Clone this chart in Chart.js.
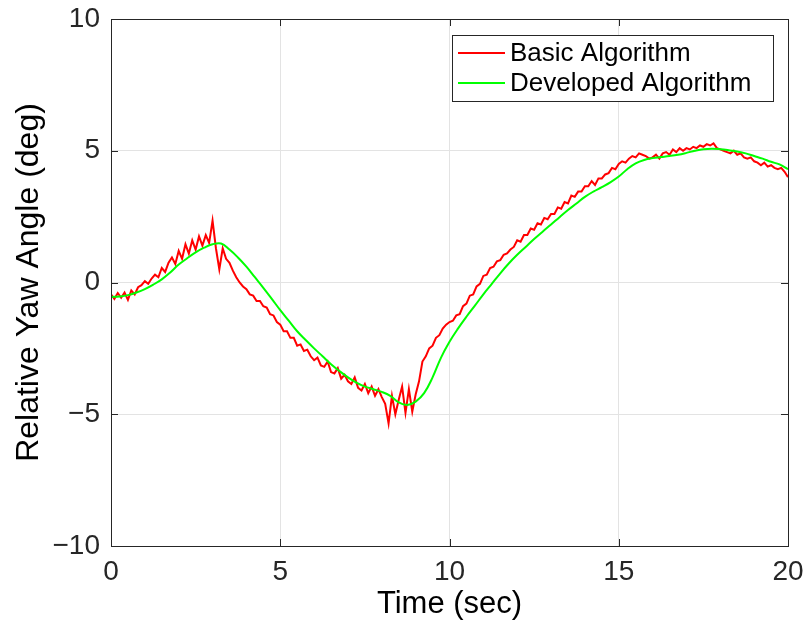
<!DOCTYPE html>
<html>
<head>
<meta charset="utf-8">
<script src="https://cdn.jsdelivr.net/npm/chart.js@4.4.0/dist/chart.umd.min.js"></script>
<style>
  html, body { margin: 0; padding: 0; background: #fff; }
  #wrap { width: 807px; height: 626px; }
</style>
</head>
<body>
<div id="wrap"><canvas id="yawChart" width="807" height="626"></canvas></div>
<script>
// time steps (sec) of the two recorded series
const basicStep = 0.1;
const developedStep = 0.25;

// Basic Algorithm, one value per 0.1 s, 0..20 s
const basicYaw = [
  -0.45,-0.62,-0.4,-0.58,-0.38,-0.66,-0.3,-0.45,-0.18,-0.1,
  0.05,-0.05,0.15,0.3,0.2,0.55,0.4,0.75,0.95,0.7,
  1.2,0.9,1.45,1.1,1.6,1.25,1.75,1.4,1.8,1.5,
  2.35,1.3,0.5,1.3,0.9,0.75,0.45,0.2,0.0,-0.15,
  -0.25,-0.45,-0.5,-0.7,-0.7,-0.9,-0.95,-1.2,-1.25,-1.5,
  -1.6,-1.85,-1.85,-2.1,-2.1,-2.4,-2.35,-2.6,-2.55,-2.8,
  -2.95,-2.85,-3.15,-3.2,-3.0,-3.4,-3.45,-3.25,-3.65,-3.5,
  -3.75,-3.85,-3.6,-4.0,-4.1,-3.85,-4.2,-3.95,-4.3,-4.05,
  -4.35,-4.6,-5.35,-4.3,-5.0,-4.45,-3.95,-4.95,-4.05,-4.9,
  -4.25,-3.75,-3.0,-2.8,-2.5,-2.4,-2.1,-2.0,-1.75,-1.6,
  -1.5,-1.45,-1.25,-1.2,-0.9,-0.8,-0.5,-0.45,-0.15,-0.05,
  0.25,0.3,0.55,0.6,0.8,0.85,1.05,1.1,1.25,1.35,
  1.6,1.55,1.8,1.8,2.05,2.0,2.25,2.2,2.45,2.4,
  2.6,2.6,2.85,2.8,3.05,3.0,3.3,3.25,3.45,3.45,
  3.65,3.65,3.85,3.7,3.95,3.95,4.1,4.15,4.35,4.3,
  4.5,4.6,4.55,4.7,4.8,4.75,4.9,4.85,4.8,4.7,
  4.75,4.85,4.7,4.9,4.95,4.85,5.05,4.95,5.1,5.0,
  5.1,5.05,5.15,5.1,5.2,5.15,5.25,5.2,5.28,5.1,
  5.05,5.0,4.95,4.9,5.0,4.85,4.9,4.75,4.7,4.75,
  4.6,4.55,4.45,4.55,4.4,4.45,4.35,4.3,4.35,4.2,
  4.0
];

// Developed Algorithm, one value per 0.25 s, 0..20 s
const developedYaw = [
  -0.55,-0.53,-0.48,-0.38,-0.25,-0.08,0.12,0.38,
  0.68,0.92,1.14,1.32,1.45,1.48,1.25,0.95,
  0.6,0.2,-0.2,-0.62,-1.05,-1.45,-1.85,-2.18,
  -2.5,-2.8,-3.1,-3.36,-3.6,-3.8,-3.95,-4.05,
  -4.15,-4.3,-4.55,-4.65,-4.52,-4.2,-3.6,-2.85,
  -2.25,-1.75,-1.3,-0.88,-0.45,-0.05,0.35,0.72,
  1.05,1.35,1.65,1.93,2.2,2.48,2.75,3.0,
  3.25,3.45,3.62,3.8,4.02,4.3,4.52,4.65,
  4.72,4.76,4.8,4.85,4.92,5.0,5.06,5.08,
  5.06,5.02,4.97,4.9,4.8,4.7,4.58,4.48,
  4.3
];

const xTicks = [0, 5, 10, 15, 20];
const yTicks = [-10, -5, 0, 5, 10];
const seriesNames = ['Basic Algorithm', 'Developed Algorithm'];
const seriesColors = ['#ff0000', '#00ff00'];

const toPoints = (vals, step) => vals.map((v, i) => ({ x: +(i * step).toFixed(2), y: v }));

const FONT = 'Liberation Sans';
const AXIS_COLOR = '#262626';

// box, inward ticks and legend like the matlab figure
const matlabFrame = {
  id: 'matlabFrame',
  afterDraw(chart) {
    const { ctx, chartArea: a, scales } = chart;
    const tick = 7;
    ctx.save();
    ctx.strokeStyle = AXIS_COLOR;
    ctx.lineWidth = 1;
    ctx.strokeRect(a.left + 0.5, a.top + 0.5, a.right - a.left, a.bottom - a.top);
    ctx.beginPath();
    xTicks.forEach(t => {
      const px = Math.round(scales.x.getPixelForValue(t)) + 0.5;
      ctx.moveTo(px, a.bottom); ctx.lineTo(px, a.bottom - tick);
      ctx.moveTo(px, a.top); ctx.lineTo(px, a.top + tick);
    });
    yTicks.forEach(t => {
      const py = Math.round(scales.y.getPixelForValue(t)) + 0.5;
      ctx.moveTo(a.left, py); ctx.lineTo(a.left + tick, py);
      ctx.moveTo(a.right, py); ctx.lineTo(a.right - tick, py);
    });
    ctx.stroke();

    // legend
    const lx = 452, ly = 35, lw = 321, lh = 66;
    ctx.fillStyle = '#fff';
    ctx.fillRect(lx, ly, lw, lh);
    ctx.strokeStyle = AXIS_COLOR;
    ctx.strokeRect(lx + 0.5, ly + 0.5, lw, lh);
    ctx.font = '26px "' + FONT + '"';
    ctx.textBaseline = 'middle';
    seriesNames.forEach((name, i) => {
      const y = ly + 18 + i * 30;
      ctx.strokeStyle = seriesColors[i];
      ctx.lineWidth = 2;
      ctx.beginPath();
      ctx.moveTo(lx + 6, y); ctx.lineTo(lx + 53, y);
      ctx.stroke();
      ctx.fillStyle = '#000';
      ctx.fillText(name, lx + 58, y + 1);
    });
    ctx.restore();
  }
};

const ctx = document.getElementById('yawChart').getContext('2d');
const yawChart = new Chart(ctx, {
  type: 'line',
  data: {
    datasets: [{
      label: seriesNames[0],
      data: toPoints(basicYaw, basicStep),
      borderColor: seriesColors[0],
      borderWidth: 2,
      pointRadius: 0,
      tension: 0,
      order: 2
    }, {
      label: seriesNames[1],
      data: toPoints(developedYaw, developedStep),
      borderColor: seriesColors[1],
      borderWidth: 2,
      pointRadius: 0,
      tension: 0.4,
      order: 1
    }]
  },
  options: {
    responsive: false,
    animation: false,
    layout: { padding: { left: 0, top: 19, right: 19, bottom: 0 } },
    plugins: { legend: { display: false }, tooltip: { enabled: false } },
    scales: {
      x: {
        type: 'linear',
        min: 0,
        max: 20,
        afterBuildTicks: s => { s.ticks = xTicks.map(v => ({ value: v })); },
        afterFit: s => { s.height = 80; s.paddingLeft = 0; s.paddingRight = 0; },
        grid: { color: '#e3e3e3', drawTicks: false },
        border: { display: false },
        ticks: { color: AXIS_COLOR, padding: 9, font: { family: FONT, size: 28 }, maxRotation: 0 },
        title: { display: true, text: 'Time (sec)', color: '#000', padding: { bottom: 3 }, font: { family: FONT, size: 31 } }
      },
      y: {
        min: -10,
        max: 10,
        afterBuildTicks: s => { s.ticks = yTicks.map(v => ({ value: v })); },
        afterFit: s => { s.width = 111; s.paddingTop = 0; s.paddingBottom = 0; },
        grid: { color: '#e3e3e3', drawTicks: false },
        border: { display: false },
        ticks: {
          color: AXIS_COLOR, padding: 11, font: { family: FONT, size: 28 },
          callback: v => String(v).replace('-', '\u2212')
        },
        title: { display: true, text: 'Relative Yaw Angle (deg)', color: '#000', padding: { top: 10 }, font: { family: FONT, size: 32 } }
      }
    }
  },
  plugins: [matlabFrame]
});
</script>
</body>
</html>
